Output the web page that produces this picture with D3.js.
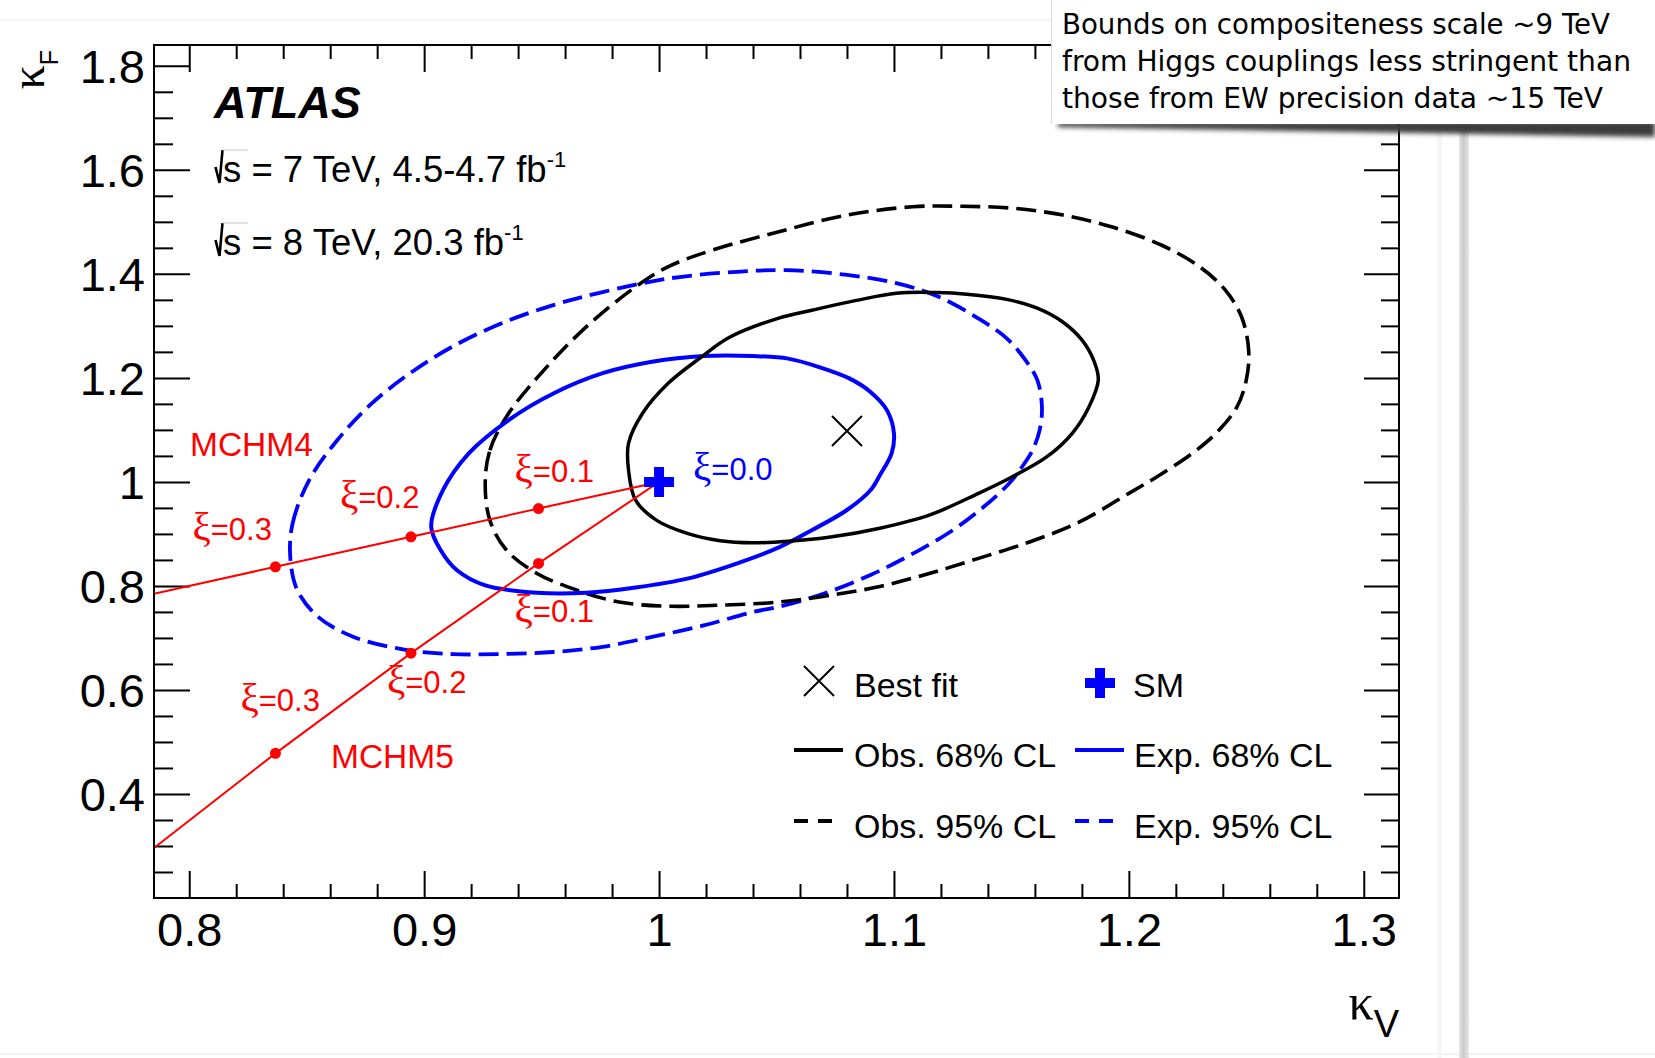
<!DOCTYPE html>
<html>
<head>
<meta charset="utf-8">
<script src="https://cdn.jsdelivr.net/npm/d3@7"></script>
<style>
  html, body { margin: 0; padding: 0; background: #ffffff; }
  svg { display: block; }
</style>
</head>
<body>
<svg id="chart" width="1655" height="1058"></svg>
<script>
// ---- data: coupling-scale contours in the (kappa_V, kappa_F) plane ----
const bestFit = [1.080, 1.098];
const smPoint = [1.0, 1.0];

// observed 68% CL contour
const obs68 = [
  [0.987, 1.023], [0.987, 1.074], [0.993, 1.132], [1.004, 1.190], [1.018, 1.240],
  [1.030, 1.278], [1.051, 1.315], [1.065, 1.330], [1.084, 1.349], [1.102, 1.363],
  [1.118, 1.364], [1.131, 1.361], [1.148, 1.351], [1.161, 1.334], [1.172, 1.307],
  [1.180, 1.273], [1.185, 1.234], [1.187, 1.196], [1.183, 1.144], [1.176, 1.094],
  [1.165, 1.048], [1.150, 1.009], [1.136, 0.978], [1.115, 0.936], [1.094, 0.911],
  [1.073, 0.894], [1.055, 0.886], [1.040, 0.883], [1.026, 0.887], [1.012, 0.901],
  [0.999, 0.926], [0.990, 0.965]
];

// expected 68% CL contour
const exp68 = [
  [0.903, 0.914], [0.908, 0.984], [0.919, 1.055], [0.936, 1.119], [0.955, 1.170],
  [0.976, 1.209], [0.997, 1.231], [1.019, 1.242], [1.040, 1.242], [1.055, 1.237],
  [1.068, 1.221], [1.081, 1.199], [1.090, 1.173], [1.097, 1.138], [1.100, 1.093],
  [1.099, 1.055], [1.094, 1.013], [1.090, 0.984], [1.080, 0.946], [1.065, 0.907],
  [1.051, 0.874], [1.033, 0.843], [1.012, 0.814], [0.990, 0.797], [0.969, 0.787],
  [0.948, 0.787], [0.926, 0.801], [0.914, 0.830], [0.907, 0.869]
];

// observed 95% CL contour
const obs95 = [
  [0.926, 0.997], [0.928, 1.061], [0.936, 1.132], [0.951, 1.215], [0.969, 1.298],
  [0.990, 1.375], [1.004, 1.414], [1.023, 1.446], [1.051, 1.481], [1.080, 1.513],
  [1.108, 1.529], [1.129, 1.530], [1.151, 1.526], [1.172, 1.513], [1.193, 1.490],
  [1.214, 1.455], [1.230, 1.414], [1.241, 1.369], [1.248, 1.317], [1.251, 1.253],
  [1.250, 1.196], [1.246, 1.144], [1.237, 1.093], [1.227, 1.055], [1.212, 1.010],
  [1.200, 0.978], [1.179, 0.923], [1.158, 0.885], [1.136, 0.853], [1.115, 0.824],
  [1.094, 0.799], [1.073, 0.782], [1.051, 0.769], [1.026, 0.763], [1.004, 0.761],
  [0.983, 0.769], [0.965, 0.792], [0.948, 0.824], [0.935, 0.869], [0.928, 0.926]
];

// expected 95% CL contour
const exp95 = [
  [0.843, 0.856], [0.844, 0.920], [0.851, 1.003], [0.863, 1.080], [0.877, 1.148],
  [0.894, 1.209], [0.912, 1.260], [0.933, 1.305], [0.955, 1.340], [0.976, 1.365],
  [1.004, 1.391], [1.033, 1.404], [1.054, 1.407], [1.080, 1.398], [1.101, 1.382],
  [1.119, 1.356], [1.136, 1.314], [1.148, 1.276], [1.156, 1.234], [1.161, 1.196],
  [1.163, 1.144], [1.162, 1.099], [1.159, 1.061], [1.155, 1.032], [1.149, 0.997],
  [1.139, 0.955], [1.125, 0.907], [1.108, 0.862], [1.090, 0.821], [1.070, 0.785],
  [1.051, 0.760], [1.040, 0.750], [1.019, 0.724], [0.997, 0.702], [0.976, 0.683],
  [0.955, 0.673], [0.933, 0.669], [0.912, 0.669], [0.891, 0.678], [0.870, 0.702],
  [0.855, 0.740], [0.846, 0.792]
];

// composite Higgs model predictions, from the SM point outwards
const mchm4Path = [[1.000, 1.000], [0.9487, 0.9487], [0.8944, 0.8944], [0.8367, 0.8367], [0.785, 0.785]];
const mchm5Path = [[1.000, 1.000], [0.9487, 0.8433], [0.8944, 0.6708], [0.8367, 0.4781], [0.785, 0.296]];
const xiValues = [0.1, 0.2, 0.3];
const mchm4Points = [[0.9487, 0.9487], [0.8944, 0.8944], [0.8367, 0.8367]];
const mchm5Points = [[0.9487, 0.8433], [0.8944, 0.6708], [0.8367, 0.4781]];

// axis ticks
const xTickValues = [0.8, 0.9, 1.0, 1.1, 1.2, 1.3];
const xTickLabels = ["0.8", "0.9", "1", "1.1", "1.2", "1.3"];
const yTickValues = [0.4, 0.6, 0.8, 1.0, 1.2, 1.4, 1.6, 1.8];
const yTickLabels = ["0.4", "0.6", "0.8", "1", "1.2", "1.4", "1.6", "1.8"];
const xMinorStep = 0.02;
const yMinorStep = 0.05;

const noteLines = [
  "Bounds on compositeness scale ~9 TeV",
  "from Higgs couplings less stringent than",
  "those from EW precision data ~15 TeV"
];

// ---- layout ----
const frame = { left: 154, top: 45, right: 1399, bottom: 898 };
const SANS = "'Liberation Sans', Arial, Helvetica, sans-serif";
const SERIF = "'Liberation Serif', 'DejaVu Serif', serif";
const BLUE = "#0000ff", RED = "#ff0000";

const svg = d3.select("#chart");
const defs = svg.append("defs");

const x = d3.scaleLinear().domain([0.785, 1.315]).range([frame.left, frame.right]);
const y = d3.scaleLinear().domain([0.2, 1.84]).range([frame.bottom, frame.top]);

// ---- page decoration around the figure ----
svg.append("line").attr("x1", 0).attr("x2", 1052).attr("y1", 20).attr("y2", 20)
  .attr("stroke", "#efefef").attr("stroke-width", 1.5);
svg.append("line").attr("x1", 0).attr("x2", 1655).attr("y1", 1054).attr("y2", 1054)
  .attr("stroke", "#eeeeee").attr("stroke-width", 1.5);
svg.append("rect").attr("x", 1437).attr("y", 120).attr("width", 5).attr("height", 938)
  .attr("fill", "#f6f6f6");
const vgrad = defs.append("linearGradient").attr("id", "vbar")
  .attr("x1", "0").attr("x2", "1").attr("y1", "0").attr("y2", "0");
vgrad.append("stop").attr("offset", "0").attr("stop-color", "#e6e6e6");
vgrad.append("stop").attr("offset", "0.45").attr("stop-color", "#c9c9c9");
vgrad.append("stop").attr("offset", "1").attr("stop-color", "#e9e9e9");
svg.append("rect").attr("x", 1459).attr("y", 120).attr("width", 10).attr("height", 938)
  .attr("fill", "url(#vbar)");

// ---- clip region for plotted content ----
defs.append("clipPath").attr("id", "plotClip").append("rect")
  .attr("x", frame.left).attr("y", frame.top)
  .attr("width", frame.right - frame.left).attr("height", frame.bottom - frame.top);

// ---- axes: major & minor ticks on all four sides, pointing inwards ----
function styleAxis(g) {
  g.select(".domain").remove();
  g.selectAll(".tick line").attr("stroke", "#000").attr("stroke-width", 2);
  g.selectAll("text").attr("fill", "#000").attr("font-family", SANS).attr("font-size", 47);
}

const xMinor = d3.range(0.8, 1.3001, xMinorStep).filter(v => !xTickValues.some(t => Math.abs(t - v) < 1e-6));
const yMinor = d3.range(0.25, 1.8001, yMinorStep).filter(v => !yTickValues.some(t => Math.abs(t - v) < 1e-6));

svg.append("g").attr("transform", `translate(0,${frame.bottom})`)
  .call(d3.axisBottom(x).tickValues(xTickValues).tickSize(-27).tickPadding(14.5)
    .tickFormat((d, i) => xTickLabels[i]))
  .call(styleAxis);
svg.append("g").attr("transform", `translate(0,${frame.bottom})`)
  .call(d3.axisBottom(x).tickValues(xMinor).tickSize(-14).tickFormat(""))
  .call(styleAxis);
svg.append("g").attr("transform", `translate(0,${frame.top})`)
  .call(d3.axisTop(x).tickValues(xTickValues).tickSize(-27).tickFormat(""))
  .call(styleAxis);
svg.append("g").attr("transform", `translate(0,${frame.top})`)
  .call(d3.axisTop(x).tickValues(xMinor).tickSize(-14).tickFormat(""))
  .call(styleAxis);

const yAxisG = svg.append("g").attr("transform", `translate(${frame.left},0)`)
  .call(d3.axisLeft(y).tickValues(yTickValues).tickSize(-36).tickPadding(9)
    .tickFormat((d, i) => yTickLabels[i]))
  .call(styleAxis);
yAxisG.selectAll("text").attr("dy", "0.36em");
svg.append("g").attr("transform", `translate(${frame.left},0)`)
  .call(d3.axisLeft(y).tickValues(yMinor).tickSize(-19).tickFormat(""))
  .call(styleAxis);
svg.append("g").attr("transform", `translate(${frame.right},0)`)
  .call(d3.axisRight(y).tickValues(yTickValues).tickSize(-35).tickFormat(""))
  .call(styleAxis);
svg.append("g").attr("transform", `translate(${frame.right},0)`)
  .call(d3.axisRight(y).tickValues(yMinor).tickSize(-18).tickFormat(""))
  .call(styleAxis);

// axis titles
const yTitle = svg.append("text")
  .attr("transform", `translate(44,50) rotate(-90)`)
  .attr("text-anchor", "end").attr("fill", "#000");
yTitle.append("tspan").attr("font-family", SERIF).attr("font-size", 48).text("κ");
yTitle.append("tspan").attr("font-family", SANS).attr("font-size", 25).attr("dy", 14).text("F");

const xTitle = svg.append("text")
  .attr("x", frame.right).attr("y", 1019)
  .attr("text-anchor", "end").attr("fill", "#000");
xTitle.append("tspan").attr("font-family", SERIF).attr("font-size", 50).text("κ");
xTitle.append("tspan").attr("font-family", SANS).attr("font-size", 38).attr("dy", 18).text("V");

// ---- contours ----
const plot = svg.append("g").attr("clip-path", "url(#plotClip)");
const contourLine = d3.line()
  .x(d => x(d[0])).y(d => y(d[1]))
  .curve(d3.curveCatmullRomClosed.alpha(0.5));

const contours = [
  { pts: exp95, color: BLUE, width: 3.8, dash: "20 8" },
  { pts: obs95, color: "#000", width: 3.6, dash: "20 8" },
  { pts: exp68, color: BLUE, width: 4, dash: null },
  { pts: obs68, color: "#000", width: 3.5, dash: null }
];
contours.forEach(c => {
  plot.append("path").attr("d", contourLine(c.pts))
    .attr("fill", "none").attr("stroke", c.color).attr("stroke-width", c.width)
    .attr("stroke-dasharray", c.dash).attr("stroke-linejoin", "round");
});

// ---- MCHM4 / MCHM5 predictions ----
const straight = d3.line().x(d => x(d[0])).y(d => y(d[1]));
[mchm4Path, mchm5Path].forEach(p => {
  plot.append("path").attr("d", straight(p)).attr("fill", "none")
    .attr("stroke", RED).attr("stroke-width", 2);
});
plot.selectAll("circle.xi").data(mchm4Points.concat(mchm5Points)).enter()
  .append("circle").attr("class", "xi")
  .attr("cx", d => x(d[0])).attr("cy", d => y(d[1])).attr("r", 5.5).attr("fill", RED);

// xi labels, offset from their points
const m4Offsets = [[-24, -27], [-71, -29], [-83, -27]];
const m5Offsets = [[-24, 59], [-24, 40], [-35, -42]];
function xiLabel(px, py, text, color) {
  const t = svg.append("text").attr("x", px).attr("y", py).attr("fill", color).attr("font-size", 31);
  t.append("tspan").attr("font-family", SERIF).attr("font-size", 41).text("ξ");
  t.append("tspan").attr("font-family", SANS).text(text);
}
mchm4Points.forEach((d, i) => xiLabel(x(d[0]) + m4Offsets[i][0], y(d[1]) + m4Offsets[i][1], "=" + xiValues[i].toFixed(1), RED));
mchm5Points.forEach((d, i) => xiLabel(x(d[0]) + m5Offsets[i][0], y(d[1]) + m5Offsets[i][1], "=" + xiValues[i].toFixed(1), RED));
xiLabel(x(smPoint[0]) + 34, y(smPoint[1]) - 2, "=0.0", BLUE);

svg.append("text").attr("x", 190).attr("y", 456).attr("fill", RED)
  .attr("font-family", SANS).attr("font-size", 33.5).text("MCHM4");
svg.append("text").attr("x", 331).attr("y", 768).attr("fill", RED)
  .attr("font-family", SANS).attr("font-size", 33.5).text("MCHM5");

// ---- markers ----
function crossMarker(g, cx, cy, half) {
  g.append("path")
    .attr("d", `M${cx - half},${cy - half}L${cx + half},${cy + half}M${cx - half},${cy + half}L${cx + half},${cy - half}`)
    .attr("stroke", "#000").attr("stroke-width", 2).attr("fill", "none");
}
function plusMarker(g, cx, cy, half, thick) {
  g.append("path")
    .attr("d", `M${cx - thick / 2},${cy - half}h${thick}v${half - thick / 2}h${half - thick / 2}v${thick}` +
      `h${-(half - thick / 2)}v${half - thick / 2}h${-thick}v${-(half - thick / 2)}h${-(half - thick / 2)}` +
      `v${-thick}h${half - thick / 2}z`)
    .attr("fill", BLUE);
}
crossMarker(svg, x(bestFit[0]), y(bestFit[1]), 15);
plusMarker(svg, x(smPoint[0]), y(smPoint[1]), 15, 10);

// ---- legend ----
const leg = svg.append("g").attr("font-family", SANS).attr("font-size", 34).attr("fill", "#000");
crossMarker(leg, 819, 681, 15);
leg.append("text").attr("x", 854).attr("y", 697).text("Best fit");
plusMarker(leg, 1100, 683, 15, 10);
leg.append("text").attr("x", 1133).attr("y", 697).text("SM");

const legendLines = [
  { x0: 794, y0: 750, color: "#000", dash: null, label: "Obs. 68% CL", tx: 854 },
  { x0: 1075, y0: 750, color: BLUE, dash: null, label: "Exp. 68% CL", tx: 1134 },
  { x0: 794, y0: 821, color: "#000", dash: "14 10", label: "Obs. 95% CL", tx: 854 },
  { x0: 1075, y0: 821, color: BLUE, dash: "14 10", label: "Exp. 95% CL", tx: 1134 }
];
legendLines.forEach(l => {
  leg.append("line").attr("x1", l.x0).attr("x2", l.x0 + (l.dash ? 39 : 49))
    .attr("y1", l.y0).attr("y2", l.y0)
    .attr("stroke", l.color).attr("stroke-width", 4).attr("stroke-dasharray", l.dash);
  leg.append("text").attr("x", l.tx).attr("y", l.y0 + 17).text(l.label);
});

// ---- frame ----
svg.append("rect").attr("x", frame.left).attr("y", frame.top)
  .attr("width", frame.right - frame.left).attr("height", frame.bottom - frame.top)
  .attr("fill", "none").attr("stroke", "#000").attr("stroke-width", 2);

// ---- experiment labels ----
svg.append("text").attr("x", 214).attr("y", 118)
  .attr("font-family", SANS).attr("font-size", 45).attr("font-weight", "bold")
  .attr("font-style", "italic").attr("fill", "#000").text("ATLAS");

const energyLines = [
  { base: 182, main: "s = 7 TeV, 4.5-4.7 fb" },
  { base: 255, main: "s = 8 TeV, 20.3 fb" }
];
energyLines.forEach(e => {
  svg.append("path")
    .attr("d", `M215.5,${e.base - 15}L219.5,${e.base + 1}L222.5,${e.base - 32}`)
    .attr("fill", "none").attr("stroke", "#000").attr("stroke-width", 2.6);
  svg.append("line").attr("x1", 222.5).attr("x2", 248).attr("y1", e.base - 32).attr("y2", e.base - 32)
    .attr("stroke", "#c4c4c4").attr("stroke-width", 1);
  const t = svg.append("text").attr("x", 223).attr("y", e.base)
    .attr("font-family", SANS).attr("font-size", 36.5).attr("fill", "#000");
  t.append("tspan").text(e.main);
  t.append("tspan").attr("font-size", 22).attr("dy", -15).text("-1");
});

// ---- note box in the top-right corner ----
const blur = defs.append("filter").attr("id", "shadowBlur")
  .attr("x", "-5%").attr("y", "-100%").attr("width", "110%").attr("height", "300%");
blur.append("feGaussianBlur").attr("stdDeviation", 2.5);
svg.append("path").attr("d", "M1058,122L1655,121L1655,137L1058,127Z")
  .attr("fill", "#3a3a3a").attr("filter", "url(#shadowBlur)");
svg.append("rect").attr("x", 1051).attr("y", 0).attr("width", 604).attr("height", 124)
  .attr("fill", "#ffffff");
svg.append("line").attr("x1", 1051.5).attr("x2", 1051.5).attr("y1", 0).attr("y2", 124)
  .attr("stroke", "#d8d8d8").attr("stroke-width", 1);
const noteWidths = [548, 569, 541];
noteLines.forEach((line, i) => {
  svg.append("text").attr("x", 1062).attr("y", 34 + i * 37)
    .attr("font-family", "'DejaVu Sans', Verdana, sans-serif").attr("font-size", 29)
    .attr("fill", "#000")
    .attr("textLength", noteWidths[i]).attr("lengthAdjust", "spacingAndGlyphs")
    .text(line);
});
</script>
</body>
</html>
